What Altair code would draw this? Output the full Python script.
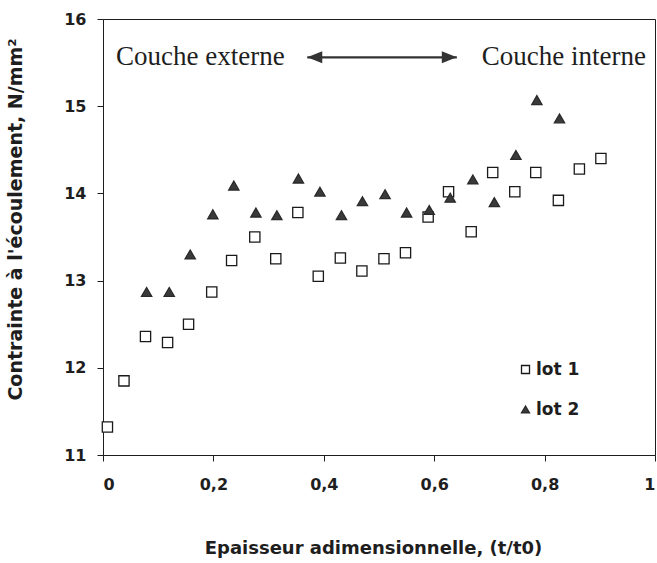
import altair as alt
import pandas as pd

# Flow stress measured across the normalised thickness, two batches
lot1_x = [0.008, 0.038, 0.077, 0.117, 0.155, 0.197, 0.233, 0.275, 0.313, 0.353,
          0.390, 0.430, 0.469, 0.509, 0.548, 0.589, 0.626, 0.667, 0.706, 0.746,
          0.784, 0.825, 0.863, 0.902]
lot1_y = [11.32, 11.85, 12.36, 12.29, 12.50, 12.87, 13.23, 13.50, 13.25, 13.78,
          13.05, 13.26, 13.11, 13.25, 13.32, 13.73, 14.02, 13.56, 14.24, 14.02,
          14.24, 13.92, 14.28, 14.40]
lot2_x = [0.079, 0.120, 0.158, 0.199, 0.237, 0.277, 0.315, 0.354, 0.393, 0.432,
          0.470, 0.511, 0.550, 0.591, 0.629, 0.670, 0.709, 0.748, 0.786, 0.827]
lot2_y = [12.87, 12.87, 13.30, 13.76, 14.09, 13.78, 13.75, 14.17, 14.02, 13.75,
          13.91, 13.99, 13.78, 13.81, 13.95, 14.16, 13.90, 14.44, 15.07, 14.86]
lots = ["lot 1", "lot 2"]

x_ticks = [0, 0.2, 0.4, 0.6, 0.8, 1]
y_ticks = [11, 12, 13, 14, 15, 16]

# Annotation: outer layer <-> inner layer
zone_labels = ["Couche externe", "Couche interne"]
zone_label_x = [0.0236, 0.686]
zone_label_y = [15.47, 15.47]
arrow_x = [0.370, 0.641]
arrow_y = 15.56

df = pd.DataFrame({
    "x": lot1_x + lot2_x,
    "y": lot1_y + lot2_y,
    "lot": [lots[0]] * len(lot1_x) + [lots[1]] * len(lot2_x),
})
labels_df = pd.DataFrame({"x": zone_label_x, "y": zone_label_y, "text": zone_labels})
arrow_df = pd.DataFrame({"x": [arrow_x[0]], "x2": [arrow_x[1]], "y": [arrow_y]})
heads_df = pd.DataFrame({"x": arrow_x, "y": [arrow_y, arrow_y], "side": ["left", "right"]})

SANS = "DejaVu Sans"
INK = "#1e1e1e"

x_scale = alt.Scale(domain=[0, 1], nice=False)
y_scale = alt.Scale(domain=[11, 16], nice=False, zero=False)

legend = alt.Legend(title=None)

points = alt.Chart(df).mark_point(filled=True, opacity=1, size=105, strokeWidth=1.3).encode(
    x=alt.X("x:Q", scale=x_scale, axis=alt.Axis(
        values=x_ticks,
        labelExpr="datum.value == 0 ? '0' : datum.value == 1 ? '1' : replace(format(datum.value, '.1f'), '.', ',')",
        title="Epaisseur adimensionnelle, (t/t0)",
        labelPadding=15, titleX=270, titleY=84, titleBaseline="top",
    )),
    y=alt.Y("y:Q", scale=y_scale, axis=alt.Axis(
        values=y_ticks, format="d",
        title="Contrainte à l'écoulement, N/mm²",
        labelPadding=11, titleX=-78, titleY=200,
    )),
    shape=alt.Shape("lot:N", scale=alt.Scale(domain=lots, range=["square", "triangle-up"]), legend=legend),
    fill=alt.Fill("lot:N", scale=alt.Scale(domain=lots, range=["white", "#3a3a3a"]), legend=legend),
    stroke=alt.Stroke("lot:N", scale=alt.Scale(domain=lots, range=["#1a1a1a", "#2a2a2a"]), legend=legend),
)

zone_text = alt.Chart(labels_df).mark_text(
    font="Liberation Serif", fontSize=27, align="left", baseline="alphabetic", color=INK
).encode(x=alt.X("x:Q", scale=x_scale), y=alt.Y("y:Q", scale=y_scale), text="text:N")

arrow_line = alt.Chart(arrow_df).mark_rule(color="#333333", strokeWidth=2.2).encode(
    x=alt.X("x:Q", scale=x_scale), x2="x2:Q", y=alt.Y("y:Q", scale=y_scale)
)

head_shapes = {"left": "M 0 0 L 2 -0.8 L 2 0.8 Z", "right": "M 0 0 L -2 -0.8 L -2 0.8 Z"}
heads = alt.layer(*[
    alt.Chart(heads_df[heads_df.side == s]).mark_point(
        shape=path, filled=True, size=225, color="#333333", opacity=1
    ).encode(x=alt.X("x:Q", scale=x_scale), y=alt.Y("y:Q", scale=y_scale))
    for s, path in head_shapes.items()
])

chart = alt.layer(points, arrow_line, heads, zone_text).properties(
    width=552, height=436,
    autosize=alt.AutoSizeParams(type="none"),
    padding={"left": 103, "top": 19, "right": 2, "bottom": 108},
    background="white",
).configure_view(
    stroke=INK, strokeWidth=1
).configure_axis(
    grid=False, domainColor=INK, tickColor=INK, tickSize=6,
    labelFont=SANS, labelFontWeight="bold", labelFontSize=16, labelColor=INK,
    titleFont=SANS, titleFontWeight="bold", titleFontSize=18, titleColor=INK,
).configure_axisY(
    titleFontSize=19
).configure_legend(
    orient="none", legendX=414, legendY=342, padding=0,
    symbolSize=64, symbolStrokeWidth=1.3, labelOffset=2, rowPadding=22,
    labelFont=SANS, labelFontWeight="bold", labelFontSize=17, labelColor=INK,
)

chart.save("out.html", embed_options={"renderer": "svg", "actions": False})
